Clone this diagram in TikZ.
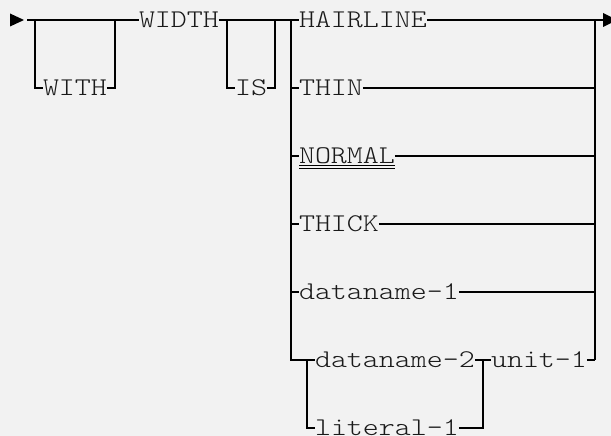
\documentclass[tikz,border=0pt]{standalone}
\usepackage{fontspec}
\newfontfamily\railfont[FakeStretch=1.195]{Latin Modern Mono Light}
\definecolor{paper}{HTML}{F2F2F2}
\definecolor{ink}{HTML}{1A1A1A}
\begin{document}
\begin{tikzpicture}[x=1pt,y=-1pt,
  rail/.style={draw=black,line width=2pt,line join=miter},
  kw/.style={inner sep=0pt,outer sep=0pt,anchor=west,text height=15pt,text depth=0pt,
    text=ink,font=\railfont\fontsize{25.5}{30}\selectfont},
  tip/.style={fill=black,draw=none}]
% canvas
\fill[paper] (0,0) rectangle (611,436);
\useasboundingbox (0,0) rectangle (611,436);
\clip (0,0) rectangle (611,436);

% keyword and operand nodes (columns 16pt wide, rows 34pt apart)
\node[kw] (with)     at (43,88)   {WITH};
\node[kw] (width)    at (139,20)  {WIDTH};
\node[kw] (is)       at (235,88)  {IS};
\node[kw] (hairline) at (299,20)  {HAIRLINE};
\node[kw] (thin)     at (299,88)  {THIN};
\node[kw] (normal)   at (299,156) {NORMAL};
\node[kw] (thick)    at (299,224) {THICK};
\node[kw] (dn1)      at (299,292) {dataname-1};
\node[kw] (dn2)      at (315,360) {dataname-2};
\node[kw] (unit)     at (491,360) {unit-1};
\node[kw] (lit)      at (315,428) {literal-1};

% junction points
\coordinate (start) at (27,20);
\coordinate (wa) at (35,20);   \coordinate (wb) at (115,20);
\coordinate (ia) at (227,20);  \coordinate (ib) at (275,20);
\coordinate (ca) at (291,20);  \coordinate (cb) at (595,20);
\coordinate (stop) at (603,20);
\coordinate (la) at (307,360); \coordinate (lb) at (483,360);

% entry and exit arrows
\fill[tip] (10,13.5) -- (24,20) -- (10,26.5) -- cycle;
\fill[tip] (603,13) -- (617,20) -- (603,27) -- cycle;

% main line
\draw[rail] (start) -- (width.west);
\draw[rail] (width.east) -- (hairline.west);
\draw[rail] (hairline.east) -- (stop);

% optional WITH
\draw[rail] (wa) |- (with.west);
\draw[rail] (with.east) -| (wb);

% optional IS
\draw[rail] (ia) |- (is.west);
\draw[rail] (is.east) -| (ib);

% choice of width: left and right rails
\draw[rail] (ca) -- (ca |- la) -- (la);
\draw[rail] (cb) -- (cb |- la);
\foreach \n in {thin,normal,thick,dn1}{
  \draw[rail] (ca |- \n.west) -- (\n.west);
  \draw[rail] (\n.east) -- (cb |- \n.east);
}

% default choice underline
\draw[line width=1.3pt] ([yshift=-2.2pt]normal.south west) -- ([yshift=-2.2pt]normal.south east);
\draw[line width=0.9pt] ([yshift=-4.6pt]normal.south west) -- ([yshift=-4.6pt]normal.south east);

% dataname-2 or literal-1, then unit-1
\draw[rail] (la) -- (dn2.west);
\draw[rail] (dn2.east) -- (unit.west);
\draw[rail] (unit.east) -| (cb |- la);
\draw[rail] (la) |- (lit.west);
\draw[rail] (lit.east) -| (lb);
\end{tikzpicture}
\end{document}
